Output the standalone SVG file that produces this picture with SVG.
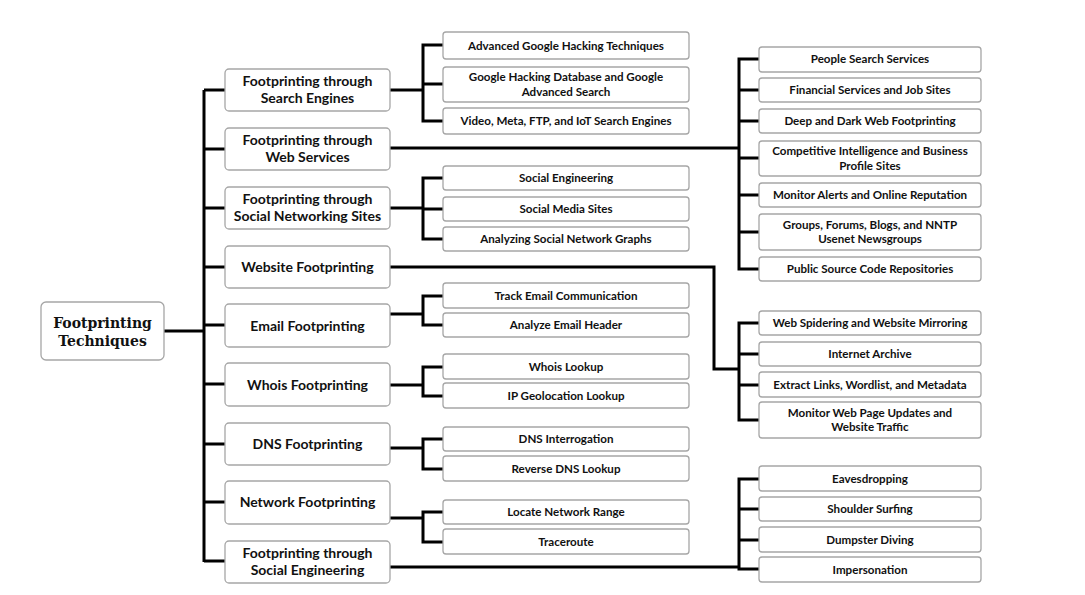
<svg xmlns="http://www.w3.org/2000/svg" width="1085" height="595" viewBox="0 0 1085 595">
<style>
.box{fill:#fff;stroke:#a6a6a6;stroke-width:1.3}
.root{font-family:"DejaVu Serif",serif;font-weight:bold;font-size:14px;fill:#111;text-anchor:middle}
.cat{font-family:Lato,"Liberation Sans",sans-serif;font-weight:bold;font-size:14px;fill:#111;text-anchor:middle}
.itm{font-family:Lato,"Liberation Sans",sans-serif;font-weight:bold;font-size:11.6px;fill:#111;text-anchor:middle}
.ln{fill:none;stroke:#000;stroke-width:3}
</style>
<rect width="1085" height="595" fill="#fff"/>
<g id="connectors" class="ln">
<path d="M164,331 H204 M204,90 V562 M204,90 H225 M204,149 H225 M204,208 H225 M204,267 H225 M204,325 H225 M204,384 H225 M204,444 H225 M204,502 H225 M204,561 H225"/>
<path d="M390,90 H423 M443,45 H423 V121 H443 M423,84 H443"/>
<path d="M390,208 H423 M443,178 H423 V239 H443 M423,209 H443"/>
<path d="M390,314 H423 M443,296 H423 V325 H443"/>
<path d="M390,385 H423 M443,367 H423 V396 H443"/>
<path d="M390,448 H423 M443,439 H423 V469 H443"/>
<path d="M390,518 H423 M443,512 H423 V542 H443"/>
<path d="M390,148 H739 M759,59 H739 V269 H759 M739,90 H759 M739,121 H759 M739,158 H759 M739,195 H759 M739,232 H759"/>
<path d="M390,267 H714 V369 H739 M759,323 H739 V420 H759 M739,354 H759 M739,385 H759"/>
<path d="M390,567 H739 M759,479 H739 V569 H759 M739,509 H759 M739,540 H759"/>
</g>
<g id="root"><rect class="box" x="41" y="302" width="123" height="58" rx="5"/><text class="root" x="102.5" y="328">Footprinting</text><text class="root" x="102.5" y="346">Techniques</text></g>
<g id="cat1"><rect class="box" x="225" y="69" width="165" height="42" rx="4"/><text class="cat" x="307.5" y="86">Footprinting through</text><text class="cat" x="307.5" y="103">Search Engines</text></g>
<g id="cat2"><rect class="box" x="225" y="128" width="165" height="42" rx="4"/><text class="cat" x="307.5" y="145">Footprinting through</text><text class="cat" x="307.5" y="162">Web Services</text></g>
<g id="cat3"><rect class="box" x="225" y="187" width="165" height="42" rx="4"/><text class="cat" x="307.5" y="204">Footprinting through</text><text class="cat" x="307.5" y="221">Social Networking Sites</text></g>
<g id="cat4"><rect class="box" x="225" y="246" width="165" height="42" rx="4"/><text class="cat" x="307.5" y="272">Website Footprinting</text></g>
<g id="cat5"><rect class="box" x="225" y="304" width="165" height="43" rx="4"/><text class="cat" x="307.5" y="331">Email Footprinting</text></g>
<g id="cat6"><rect class="box" x="225" y="363" width="165" height="43" rx="4"/><text class="cat" x="307.5" y="390">Whois Footprinting</text></g>
<g id="cat7"><rect class="box" x="225" y="423" width="165" height="42" rx="4"/><text class="cat" x="307.5" y="449">DNS Footprinting</text></g>
<g id="cat8"><rect class="box" x="225" y="481" width="165" height="43" rx="4"/><text class="cat" x="307.5" y="507">Network Footprinting</text></g>
<g id="cat9"><rect class="box" x="225" y="541" width="165" height="42" rx="4"/><text class="cat" x="307.5" y="558">Footprinting through</text><text class="cat" x="307.5" y="575">Social Engineering</text></g>
<g id="se1"><rect class="box" x="443" y="32" width="246" height="27" rx="3"/><text class="itm" x="566" y="49.5">Advanced Google Hacking Techniques</text></g>
<g id="se2"><rect class="box" x="443" y="67" width="246" height="35" rx="3"/><text class="itm" x="566" y="81">Google Hacking Database and Google</text><text class="itm" x="566" y="95.5">Advanced Search</text></g>
<g id="se3"><rect class="box" x="443" y="108" width="246" height="26" rx="3"/><text class="itm" x="566" y="125">Video, Meta, FTP, and IoT Search Engines</text></g>
<g id="sn1"><rect class="box" x="443" y="166" width="246" height="24" rx="3"/><text class="itm" x="566" y="182">Social Engineering</text></g>
<g id="sn2"><rect class="box" x="443" y="197" width="246" height="24" rx="3"/><text class="itm" x="566" y="213">Social Media Sites</text></g>
<g id="sn3"><rect class="box" x="443" y="227" width="246" height="24" rx="3"/><text class="itm" x="566" y="243">Analyzing Social Network Graphs</text></g>
<g id="em1"><rect class="box" x="443" y="283" width="246" height="25" rx="3"/><text class="itm" x="566" y="299.5">Track Email Communication</text></g>
<g id="em2"><rect class="box" x="443" y="313" width="246" height="24" rx="3"/><text class="itm" x="566" y="329">Analyze Email Header</text></g>
<g id="wh1"><rect class="box" x="443" y="354" width="246" height="25" rx="3"/><text class="itm" x="566" y="370.5">Whois Lookup</text></g>
<g id="wh2"><rect class="box" x="443" y="383" width="246" height="25" rx="3"/><text class="itm" x="566" y="399.5">IP Geolocation Lookup</text></g>
<g id="dn1"><rect class="box" x="443" y="427" width="246" height="24" rx="3"/><text class="itm" x="566" y="443">DNS Interrogation</text></g>
<g id="dn2"><rect class="box" x="443" y="456" width="246" height="25" rx="3"/><text class="itm" x="566" y="472.5">Reverse DNS Lookup</text></g>
<g id="nw1"><rect class="box" x="443" y="500" width="246" height="24" rx="3"/><text class="itm" x="566" y="516">Locate Network Range</text></g>
<g id="nw2"><rect class="box" x="443" y="529" width="246" height="25" rx="3"/><text class="itm" x="566" y="545.5">Traceroute</text></g>
<g id="ws1"><rect class="box" x="759" y="47" width="222" height="25" rx="3"/><text class="itm" x="870" y="63">People Search Services</text></g>
<g id="ws2"><rect class="box" x="759" y="78" width="222" height="24" rx="3"/><text class="itm" x="870" y="94">Financial Services and Job Sites</text></g>
<g id="ws3"><rect class="box" x="759" y="109" width="222" height="24" rx="3"/><text class="itm" x="870" y="125">Deep and Dark Web Footprinting</text></g>
<g id="ws4"><rect class="box" x="759" y="141" width="222" height="35" rx="3"/><text class="itm" x="870" y="155">Competitive Intelligence and Business</text><text class="itm" x="870" y="169.5">Profile Sites</text></g>
<g id="ws5"><rect class="box" x="759" y="183" width="222" height="24" rx="3"/><text class="itm" x="870" y="199">Monitor Alerts and Online Reputation</text></g>
<g id="ws6"><rect class="box" x="759" y="214" width="222" height="36" rx="3"/><text class="itm" x="870" y="228.5">Groups, Forums, Blogs, and NNTP</text><text class="itm" x="870" y="243">Usenet Newsgroups</text></g>
<g id="ws7"><rect class="box" x="759" y="257" width="222" height="24" rx="3"/><text class="itm" x="870" y="273">Public Source Code Repositories</text></g>
<g id="wb1"><rect class="box" x="759" y="311" width="222" height="24" rx="3"/><text class="itm" x="870" y="327">Web Spidering and Website Mirroring</text></g>
<g id="wb2"><rect class="box" x="759" y="342" width="222" height="24" rx="3"/><text class="itm" x="870" y="358">Internet Archive</text></g>
<g id="wb3"><rect class="box" x="759" y="372" width="222" height="25" rx="3"/><text class="itm" x="870" y="388.5">Extract Links, Wordlist, and Metadata</text></g>
<g id="wb4"><rect class="box" x="759" y="402" width="222" height="36" rx="3"/><text class="itm" x="870" y="416.5">Monitor Web Page Updates and</text><text class="itm" x="870" y="431">Website Traffic</text></g>
<g id="sc1"><rect class="box" x="759" y="466" width="222" height="25" rx="3"/><text class="itm" x="870" y="482.5">Eavesdropping</text></g>
<g id="sc2"><rect class="box" x="759" y="497" width="222" height="24" rx="3"/><text class="itm" x="870" y="513">Shoulder Surfing</text></g>
<g id="sc3"><rect class="box" x="759" y="527" width="222" height="25" rx="3"/><text class="itm" x="870" y="543.5">Dumpster Diving</text></g>
<g id="sc4"><rect class="box" x="759" y="557" width="222" height="25" rx="3"/><text class="itm" x="870" y="573.5">Impersonation</text></g>
</svg>
